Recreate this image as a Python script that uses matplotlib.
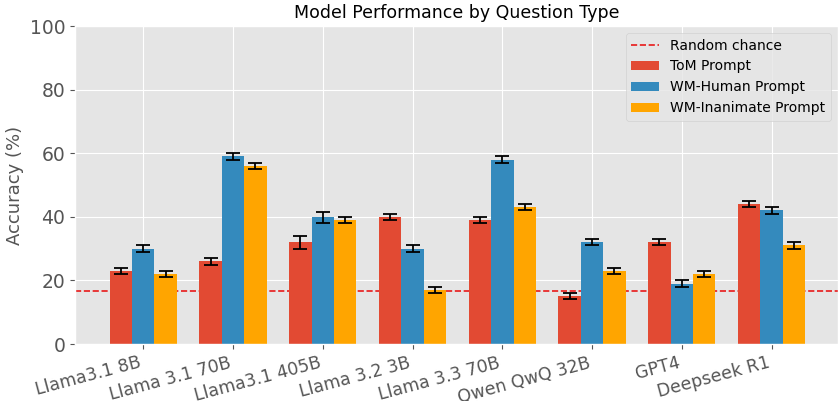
import numpy as np
import matplotlib
matplotlib.use('Agg')
import matplotlib.pyplot as plt

plt.style.use('ggplot')

models = ['Llama3.1 8B', 'Llama 3.1 70B', 'Llama3.1 405B', 'Llama 3.2 3B',
          'Llama 3.3 70B', 'Qwen QwQ 32B', 'GPT4', 'Deepseek R1']
tom = [23, 26, 32, 40, 39, 15, 32, 44]
wm_human = [30, 59, 39.8, 30, 58, 32, 19, 42]
wm_inanimate = [22, 56, 39, 17, 43, 23, 22, 31]
tom_err = [1.0, 1.0, 2.0, 1.0, 1.0, 1.0, 1.0, 1.0]
wm_human_err = [1.0, 1.0, 1.6, 1.0, 1.0, 1.0, 1.0, 1.0]
wm_inanimate_err = [1.0, 1.0, 1.0, 1.0, 1.0, 1.0, 1.0, 1.0]
chance = 100 / 6

x = np.arange(len(models))
w = 0.25

fig, ax = plt.subplots(figsize=(8.39, 4.01), dpi=100)
fig.subplots_adjust(left=75/839, right=838/839, top=1-26/401, bottom=1-344/401)

ax.axhline(chance, color='#e8191a', linestyle='--', linewidth=1.2, label='Random chance', zorder=1)
ek = dict(ecolor='black', capsize=5, elinewidth=1.3, capthick=1.3)
ax.bar(x - w, tom, w, yerr=tom_err, color='#E24A33', label='ToM Prompt', error_kw=ek)
ax.bar(x, wm_human, w, yerr=wm_human_err, color='#348ABD', label='WM-Human Prompt', error_kw=ek)
ax.bar(x + w, wm_inanimate, w, yerr=wm_inanimate_err, color='#FFA500', label='WM-Inanimate Prompt', error_kw=ek)

ax.set_xlim(-0.76, 7.74)
ax.set_ylim(0, 100)
ax.set_xticks(x)
ax.set_xticklabels(models, rotation=15, ha='right', fontsize=12.5)
ax.tick_params(axis='y', labelsize=13.5)
ax.set_ylabel('Accuracy (%)', fontsize=13)
ax.set_title('Model Performance by Question Type', fontsize=12.5, color='black')
ax.legend(loc='upper right', fontsize=10)

plt.savefig('out.png', dpi=100)
